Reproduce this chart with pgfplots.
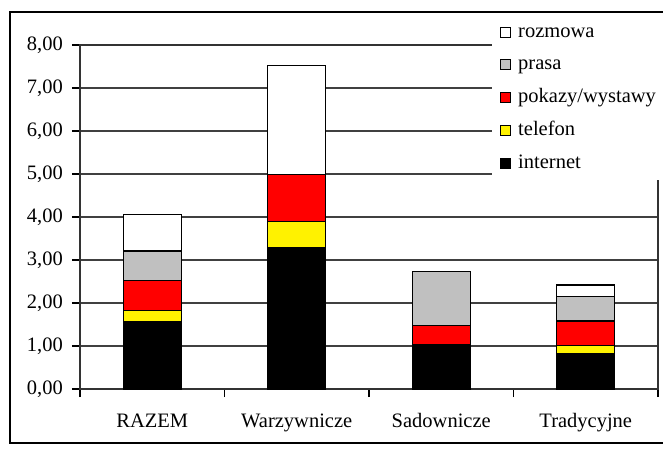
\documentclass[border=0pt]{standalone}
\usepackage{fontspec}
\setmainfont{Liberation Serif}
\usepackage{pgfplots}
\pgfplotsset{compat=1.18}
\definecolor{ggray}{RGB}{192,192,192}
\begin{document}
\fontsize{20.5}{24}\selectfont
\begin{tikzpicture}
\begin{axis}[
  at={(0pt,0pt)}, anchor=south west,
  scale only axis, width=578pt, height=344pt,
  ybar stacked, bar width=0.4,
  xmin=-0.5, xmax=3.5, ymin=0, ymax=8,
  xtick={0,1,2,3}, xticklabels={RAZEM,Warzywnicze,Sadownicze,Tradycyjne},
  minor xtick={-0.5,0.5,1.5,2.5,3.5},
  major x tick style={draw=none},
  ytick={0,1,...,8},
  ymajorgrids, major grid style={black!75, line width=1.2pt},
  tick align=outside, tick pos=left,
  major tick length=8pt, minor tick length=8pt,
  every tick/.style={black, line width=1.2pt},
  axis line style={black!80, line width=1.2pt},
  yticklabel style={inner sep=0pt, xshift=-9pt, /pgf/number format/.cd, fixed, fixed zerofill, precision=2, use comma, assume math mode=true},
  xticklabel style={inner sep=0pt, text height=14pt, text depth=4pt, yshift=-16pt},
  reverse legend,
  legend cell align=left,
  legend style={at={(rel axis cs:0.7128,1.0858)}, anchor=north west, fill=white, draw=none,
    inner xsep=8pt, inner ysep=0pt, row sep=0pt, column sep=7pt,
    nodes={inner sep=0pt, text height=21.4pt, text depth=11.4pt, text width=150pt, align=left}},
  every axis plot post/.append style={draw=black, line width=1.2pt,
    legend image code/.code={\draw[##1,draw=black,line width=1pt] (0pt,-5pt) rectangle (10pt,5pt);}},
]
\addplot[fill=black] coordinates {(0,1.56) (1,3.29) (2,1.04) (3,0.83)};
\addplot[fill=yellow] coordinates {(0,0.27) (1,0.61) (2,0) (3,0.19)};
\addplot[fill=red] coordinates {(0,0.69) (1,1.09) (2,0.43) (3,0.56)};
\addplot[fill=ggray] coordinates {(0,0.69) (1,0) (2,1.27) (3,0.58)};
\addplot[fill=white] coordinates {(0,0.84) (1,2.54) (2,0) (3,0.26)};
\legend{internet,telefon,pokazy/wystawy,prasa,rozmowa}
\end{axis}
\pgfresetboundingbox
\path[use as bounding box] (-80pt,-59pt) rectangle (583pt,389pt);
\draw[black, line width=1.5pt] (600pt,377pt) -- (-70pt,377pt) -- (-70pt,-54pt) -- (600pt,-54pt);
\end{tikzpicture}
\end{document}
